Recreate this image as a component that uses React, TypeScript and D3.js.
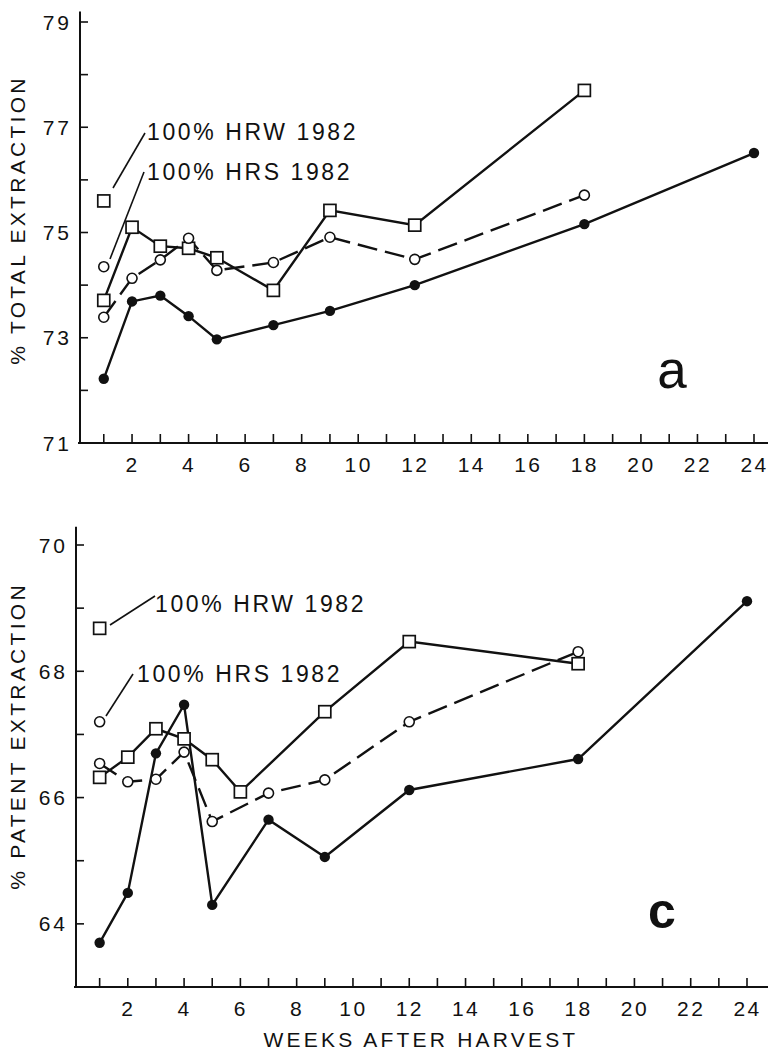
import React from 'react';
import * as d3 from 'd3';

// weeks after harvest
const weeksSquares = [1, 2, 3, 4, 5, 7, 9, 12, 18];
const weeksOpen = [1, 2, 3, 4, 5, 7, 9, 12, 18];
const weeksFilled = [1, 2, 3, 4, 5, 7, 9, 12, 18, 24];
const weeksSquaresC = [1, 2, 3, 4, 5, 6, 9, 12, 18];

// panel a: % total extraction
const totalSquares = [73.71, 75.1, 74.74, 74.7, 74.52, 73.9, 75.42, 75.14, 77.7];
const totalOpen = [73.39, 74.13, 74.48, 74.89, 74.28, 74.43, 74.91, 74.49, 75.71];
const totalFilled = [72.22, 73.69, 73.8, 73.41, 72.97, 73.24, 73.51, 74.0, 75.16, 76.51];
const totalHRW = 75.6;
const totalHRS = 74.35;

// panel c: % patent extraction
const patentSquares = [66.32, 66.64, 67.09, 66.93, 66.6, 66.09, 67.36, 68.47, 68.12];
const patentOpen = [66.54, 66.25, 66.29, 66.72, 65.62, 66.07, 66.28, 67.2, 68.31];
const patentFilled = [63.7, 64.49, 66.7, 67.47, 64.3, 65.65, 65.06, 66.12, 66.61, 69.11];
const patentHRW = 68.68;
const patentHRS = 67.2;

const xTicks = d3.range(1, 25);
const xLabels = [2, 4, 6, 8, 10, 12, 14, 16, 18, 20, 22, 24];
const yLabelsA = [71, 73, 75, 77, 79];
const yLabelsC = [64, 66, 68, 70];

const legendHRW = '100% HRW 1982';
const legendHRS = '100% HRS 1982';

const FONT = '"Liberation Sans", Arial, Helvetica, sans-serif';

function Panel(props) {
    const { x, y, axisX, yTop, yLabels, yTitle, yTitleY, squares, open, filled, hrw, hrs, legend, letter } = props;
    const yBottom = y.range()[0];
    const line = d3.line().x(d => x(d[0])).y(d => y(d[1]));
    const sq = d3.zip(squares.w, squares.v);
    const op = d3.zip(open.w, open.v);
    const fi = d3.zip(filled.w, filled.v);
    const [ymin, ymax] = y.domain();
    const allTicks = d3.range(Math.ceil(ymin), Math.floor(ymax) + 1);

    return (
        <g fontFamily={FONT} fill="#111">
            {/* axes */}
            <line x1={axisX} x2={axisX} y1={y(yTop)} y2={yBottom} stroke="#111" strokeWidth={2} />
            <line x1={axisX - 2} x2={768} y1={yBottom} y2={yBottom} stroke="#111" strokeWidth={2} />
            {allTicks.map(t => (
                <line key={'yt' + t} x1={axisX} x2={axisX + 8} y1={y(t)} y2={y(t)} stroke="#111" strokeWidth={1.6} />
            ))}
            {yLabels.map(t => (
                <text key={'yl' + t} x={axisX - 8} y={y(t)} dy="0.36em" textAnchor="end" fontSize={21} letterSpacing={3}>{t}</text>
            ))}
            {xTicks.map(t => (
                <line key={'xt' + t} x1={x(t)} x2={x(t)} y1={yBottom} y2={yBottom - 9} stroke="#111" strokeWidth={1.6} />
            ))}
            {xLabels.map(t => (
                <text key={'xl' + t} x={x(t) + 0.5} y={yBottom + 29} textAnchor="middle" fontSize={21} letterSpacing={2.4}>{t}</text>
            ))}
            <text transform={`translate(25,${yTitleY}) rotate(-90)`} textAnchor="middle" fontSize={21} letterSpacing={3.3}>{yTitle}</text>

            {/* series lines */}
            <path d={line(sq)} fill="none" stroke="#111" strokeWidth={2.4} />
            <path d={line(op)} fill="none" stroke="#111" strokeWidth={2.4} strokeDasharray="20,8" />
            <path d={line(fi)} fill="none" stroke="#111" strokeWidth={2.4} />

            {/* legend leaders */}
            <line x1={legend.hrwLine[0]} y1={legend.hrwLine[1]} x2={legend.hrwLine[2]} y2={legend.hrwLine[3]} stroke="#111" strokeWidth={1.6} />
            <line x1={legend.hrsLine[0]} y1={legend.hrsLine[1]} x2={legend.hrsLine[2]} y2={legend.hrsLine[3]} stroke="#111" strokeWidth={1.6} />
            <text x={legend.hrwText[0]} y={legend.hrwText[1]} fontSize={23} letterSpacing={2.6}>{legendHRW}</text>
            <text x={legend.hrsText[0]} y={legend.hrsText[1]} fontSize={23} letterSpacing={2.6}>{legendHRS}</text>

            {/* markers */}
            {sq.map((d, i) => (
                <rect key={'s' + i} x={x(d[0]) - 6} y={y(d[1]) - 6} width={12} height={12} fill="#fff" stroke="#111" strokeWidth={1.7} />
            ))}
            <rect x={x(1) - 6} y={y(hrw) - 6} width={12} height={12} fill="#fff" stroke="#111" strokeWidth={1.7} />
            {op.map((d, i) => (
                <circle key={'o' + i} cx={x(d[0])} cy={y(d[1])} r={5} fill="#fff" stroke="#111" strokeWidth={1.6} />
            ))}
            <circle cx={x(1)} cy={y(hrs)} r={5} fill="#fff" stroke="#111" strokeWidth={1.6} />
            {fi.map((d, i) => (
                <circle key={'f' + i} cx={x(d[0])} cy={y(d[1])} r={5.2} fill="#111" />
            ))}

            <text x={letter.x} y={letter.y} textAnchor="middle" fontSize={letter.size} fontWeight={letter.weight}>{letter.text}</text>
        </g>
    );
}

export default function App() {
    const xA = d3.scaleLinear().domain([0, 24]).range([75.5, 754]);
    const yA = d3.scaleLinear().domain([71, 79]).range([443, 22]);
    const xC = d3.scaleLinear().domain([0, 24]).range([71.5, 747]);
    const yC = d3.scaleLinear().domain([63, 70]).range([987, 545]);

    return (
        <svg width={768} height={1053} style={{ position: 'absolute', left: 0, top: 0, background: '#fff' }}>
            <rect width={768} height={1053} fill="#fff" />
            <Panel
                x={xA} y={yA} axisX={80} yTop={79.2} yLabels={yLabelsA}
                yTitle="% TOTAL EXTRACTION" yTitleY={220}
                squares={{ w: weeksSquares, v: totalSquares }}
                open={{ w: weeksOpen, v: totalOpen }}
                filled={{ w: weeksFilled, v: totalFilled }}
                hrw={totalHRW} hrs={totalHRS}
                legend={{
                    hrwLine: [113, 188, 145, 133], hrsLine: [110, 259, 144, 172],
                    hrwText: [147, 140], hrsText: [147, 180]
                }}
                letter={{ text: 'a', x: 672, y: 388, size: 53, weight: 400 }}
            />
            <Panel
                x={xC} y={yC} axisX={76} yTop={70.29} yLabels={yLabelsC}
                yTitle="% PATENT EXTRACTION" yTitleY={736}
                squares={{ w: weeksSquaresC, v: patentSquares }}
                open={{ w: weeksOpen, v: patentOpen }}
                filled={{ w: weeksFilled, v: patentFilled }}
                hrw={patentHRW} hrs={patentHRS}
                legend={{
                    hrwLine: [110, 625, 155, 596], hrsLine: [106, 716, 133, 674],
                    hrwText: [155, 612], hrsText: [137, 682]
                }}
                letter={{ text: 'c', x: 662, y: 928, size: 50, weight: 700 }}
            />
            <text x={421} y={1047} textAnchor="middle" fontFamily={FONT} fontSize={21} letterSpacing={3.2} fill="#111">WEEKS AFTER HARVEST</text>
        </svg>
    );
}
